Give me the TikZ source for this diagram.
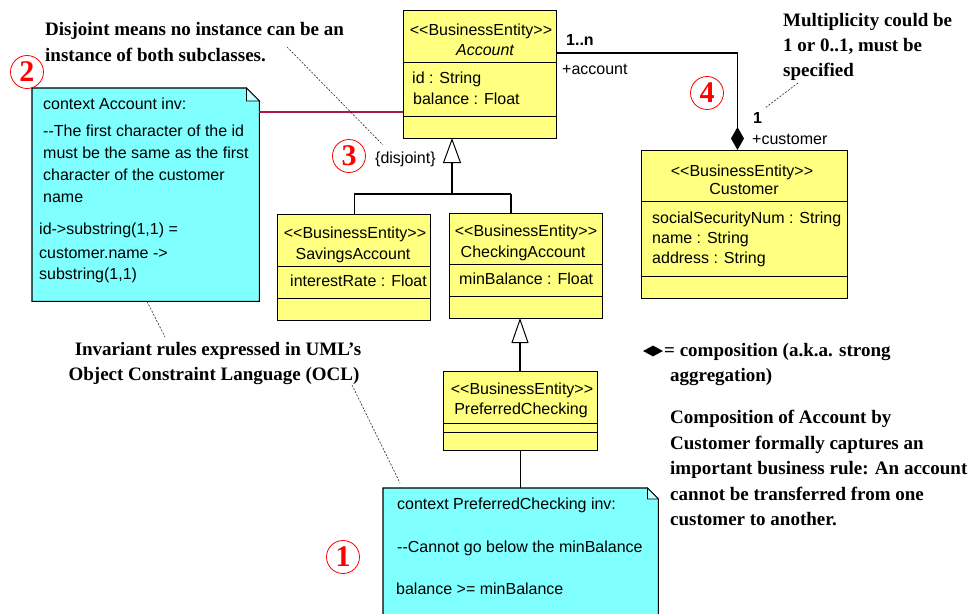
\documentclass[tikz,border=0pt]{standalone}
\usepackage{fontspec}
\setmainfont{Liberation Serif}
\newfontfamily\umlfont{Liberation Sans}
\usetikzlibrary{calc,arrows.meta,shapes.geometric}
% kerns keep "<<" and "--" from turning into ligatures
\newcommand\stereo{<\kern0pt<BusinessEntity>\kern0pt>}
\newcommand\ddash{-\kern0pt-}
\definecolor{boxyellow}{RGB}{255,255,128}
\definecolor{notecyan}{RGB}{128,255,255}
\definecolor{linkred}{RGB}{170,25,65}
\begin{document}
\begin{tikzpicture}[x=1pt,y=-1pt,
  uml/.style={font=\umlfont\fontsize{16}{20}\selectfont, inner sep=0pt},
  lbl/.style={uml, anchor=base west},
  ctr/.style={uml, anchor=base},
  classbox/.style={draw=black, line width=1.3pt, fill=boxyellow, anchor=north west, inner sep=0pt},
  divider/.style={draw=black, line width=0.9pt},
  notearea/.style={anchor=north west, inner sep=0pt},
  noteline/.style={draw=black, line width=1.1pt, fill=notecyan},
  conn/.style={draw=black, line width=1.1pt},
  hint/.style={draw=black!85, line width=0.6pt, dash pattern=on 2pt off 1.5pt},
  remark/.style={font=\fontsize{19}{25}\selectfont\bfseries, inner sep=0pt, anchor=base west},
  badge/.style={circle, draw=red, line width=0.8pt, text=red, minimum size=33pt, inner sep=0pt,
                font=\fontsize{30}{30}\selectfont\bfseries},
]
\useasboundingbox (0,0) rectangle (969,613);
\clip (0,0) rectangle (969,613);

% ---------- OCL notes ----------
\node[notearea, minimum width=227pt, minimum height=213pt] (note2) at (32,88) {};
\draw[noteline] (note2.north west) -- ($(note2.north east)+(-13,0)$) -- ($(note2.north east)+(0,13)$)
  -- (note2.south east) -- (note2.south west) -- cycle;
\draw[line width=0.8pt, fill=notecyan!45] ($(note2.north east)+(-13,0)$) |- ($(note2.north east)+(0,13)$) -- cycle;

\node[notearea, minimum width=275pt, minimum height=140pt] (note1) at (383,488) {};
\draw[noteline] (note1.north west) -- ($(note1.north east)+(-11,0)$) -- ($(note1.north east)+(0,11)$)
  -- (note1.south east) -- (note1.south west) -- cycle;
\draw[line width=0.8pt, fill=notecyan!45] ($(note1.north east)+(-11,0)$) |- ($(note1.north east)+(0,11)$) -- cycle;

\node[lbl] (n2a) at (43,109) {context Account inv:};
\node[lbl] (n2b) at (43,136) {\ddash The first character of the id};
\node[lbl] (n2c) at (43,158) {must be the same as the first};
\node[lbl] (n2d) at (43,180) {character of the customer};
\node[lbl] (n2e) at (43,202) {name};
\node[lbl] (n2f) at (39,234) {id->substring(1,1) =};
\node[lbl] (n2g) at (39,258) {customer.name ->};
\node[lbl] (n2h) at (39,279) {substring(1,1)};

\node[lbl] (n1a) at (397,509) {context PreferredChecking inv:};
\node[lbl] (n1b) at (397,552) {\ddash Cannot go below the minBalance};
\node[lbl] (n1c) at (396,594) {balance >= minBalance};

% ---------- classes ----------
\node[classbox, minimum width=153pt, minimum height=128pt] (acc) at (403,10) {};
\draw[divider] ($(acc.north west)+(0,52)$) -- ($(acc.north east)+(0,52)$);
\draw[divider] ($(acc.north west)+(0,106)$) -- ($(acc.north east)+(0,106)$);
\node[ctr] (accS) at (481,35) {\stereo};
\node[ctr] (accN) at (485,55) {\itshape Account};
\node[lbl] (accA) at (412,83) {id : String};
\node[lbl] (accB) at (413,104) {balance : Float};

\node[classbox, minimum width=206pt, minimum height=148pt] (cust) at (641,150) {};
\draw[divider] ($(cust.north west)+(0,51)$) -- ($(cust.north east)+(0,51)$);
\draw[divider] ($(cust.north west)+(0,126)$) -- ($(cust.north east)+(0,126)$);
\node[ctr] (custS) at (742,176) {\stereo};
\node[ctr] (custN) at (744,194) {Customer};
\node[lbl] (custA) at (652,223) {socialSecurityNum : String};
\node[lbl] (custB) at (652,243) {name : String};
\node[lbl] (custC) at (652,263) {address : String};

\node[classbox, minimum width=153pt, minimum height=106pt] (sav) at (277,214) {};
\draw[divider] ($(sav.north west)+(0,52)$) -- ($(sav.north east)+(0,52)$);
\draw[divider] ($(sav.north west)+(0,84)$) -- ($(sav.north east)+(0,84)$);
\node[ctr] (savS) at (355,238) {\stereo};
\node[ctr] (savN) at (353,259) {SavingsAccount};
\node[lbl] (savA) at (290,286) {interestRate : Float};

\node[classbox, minimum width=153pt, minimum height=105pt] (chk) at (449,213) {};
\draw[divider] ($(chk.north west)+(0,51)$) -- ($(chk.north east)+(0,51)$);
\draw[divider] ($(chk.north west)+(0,83)$) -- ($(chk.north east)+(0,83)$);
\node[ctr] (chkS) at (526,236) {\stereo};
\node[ctr] (chkN) at (523,257) {CheckingAccount};
\node[lbl] (chkA) at (459,284) {minBalance : Float};

\node[classbox, minimum width=154pt, minimum height=79pt] (pc) at (443,371) {};
\draw[divider] ($(pc.north west)+(0,52)$) -- ($(pc.north east)+(0,52)$);
\draw[divider] ($(pc.north west)+(0,61)$) -- ($(pc.north east)+(0,61)$);
\node[ctr] (pcS) at (522,394) {\stereo};
\node[ctr] (pcN) at (521,414) {PreferredChecking};

% ---------- generalisations ----------
\coordinate (gAcc) at (452,138);
\coordinate (gJoin) at (452,194);
\coordinate (chkTop) at (511,213);
\draw[conn, -{Triangle[open, length=25pt, width=18pt, line width=1pt]}] (gJoin) -- (gAcc);
\draw[conn] (sav.north |- gJoin) -- (chkTop |- gJoin);
\draw[conn] (sav.north) -- (sav.north |- gJoin);
\draw[conn] (chkTop) -- (chkTop |- gJoin);

\coordinate (gChk) at (520,318);
\draw[conn, -{Triangle[open, length=25pt, width=17pt, line width=1pt]}] (pc.north -| gChk) -- (gChk);

% ---------- composition ----------
\coordinate (accR) at ($(acc.north east)+(0,43)$);
\coordinate (custTop) at (737.5,150);
\draw[conn, -{Diamond[length=23pt, width=13pt]}] (accR) -| (custTop);
\node[lbl, font=\umlfont\bfseries\fontsize{16}{20}\selectfont] (mA) at (566,45) {1..n};
\node[lbl] (rA) at (562,74) {+account};
\node[lbl, font=\umlfont\bfseries\fontsize{16}{20}\selectfont] (mC) at (753,123) {1};
\node[lbl] (rC) at (752,144) {+customer};

% ---------- note links ----------
\coordinate (n2link) at ($(note2.north east)+(0,24)$);
\draw[draw=linkred, line width=1.1pt] (n2link) -- (n2link -| acc.west);
\draw[conn] (pc.south) -- (pc.south |- note1.north);

% ---------- disjoint constraint ----------
\node[lbl] (disj) at (375,163) {\{disjoint\}};

% ---------- remarks ----------
\node[remark] (djA) at (45,35) {Disjoint means no instance can be an};
\node[remark] (djB) at (45,61) {instance of both subclasses.};
\node[remark] (muA) at (783,26) {Multiplicity could be};
\node[remark] (muB) at (783,51) {1 or 0..1, must be};
\node[remark] (muC) at (783,76) {specified};
\node[remark, anchor=base] (ocA) at (218,355) {Invariant rules expressed in UML’s};
\node[remark, anchor=base] (ocB) at (214,380) {Object Constraint Language (OCL)};

\node[diamond, fill=black, minimum width=20pt, minimum height=11pt, inner sep=0pt] (legd) at (653,351) {};
\node[remark] (lgA) at (664,356) {= composition (a.k.a. strong};
\node[remark] (lgB) at (670,381) {aggregation)};
\node[remark] (cpA) at (670,423) {Composition of Account by};
\node[remark] (cpB) at (670,449) {Customer formally captures an};
\node[remark] (cpC) at (670,474) {important business rule: An account};
\node[remark] (cpD) at (670,500) {cannot be transferred from one};
\node[remark] (cpE) at (670,525) {customer to another.};

% dashed pointers from remarks
\coordinate (djP) at (287,47);
\coordinate (djQ) at (383,145);
\draw[hint] (djP) -- (djQ);
\coordinate (muP) at (798,83);
\coordinate (muQ) at (765,108);
\draw[hint] (muP) -- (muQ);
\coordinate (ocP) at (165,337);
\draw[hint] (note2.south -| 147,0) -- (ocP);
\coordinate (ocQ) at (352,385);
\coordinate (ocR) at (400,483);
\draw[hint] (ocQ) -- (ocR);

% ---------- numbered badges ----------
\node[badge] (b2) at (27,72) {2};
\node[badge] (b3) at (349,156) {3};
\node[badge] (b4) at (707,93) {4};
\node[badge] (b1) at (343,557) {1};
\end{tikzpicture}
\end{document}
